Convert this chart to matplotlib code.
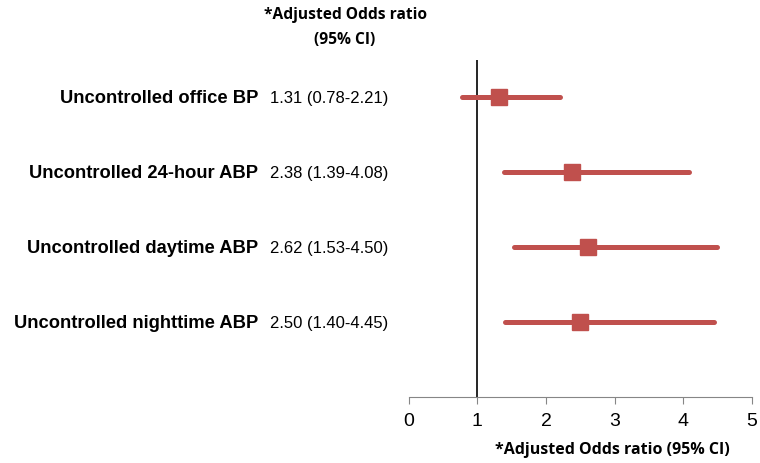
import matplotlib.pyplot as plt

# forest plot data
labels = ["Uncontrolled office BP", "Uncontrolled 24-hour ABP",
          "Uncontrolled daytime ABP", "Uncontrolled nighttime ABP"]
odds = [1.31, 2.38, 2.62, 2.50]
ci_low = [0.78, 1.39, 1.53, 1.40]
ci_high = [2.21, 4.08, 4.50, 4.45]
xticks = [0, 1, 2, 3, 4, 5]

red = "#C0504D"
fig = plt.figure(figsize=(7.6, 4.64), dpi=100)
ax = fig.add_axes([0.538, 0.142, 0.451, 0.727])

ypos = [4, 3, 2, 1]
for y, o, lo, hi in zip(ypos, odds, ci_low, ci_high):
    ax.plot([lo, hi], [y, y], color=red, lw=3.6, solid_capstyle="round", zorder=2)
    ax.plot(o, y, marker="s", ms=12, color=red, zorder=3)

ax.axvline(1, color="black", lw=1.2, zorder=1)
ax.set_xlim(0, 5)
ax.set_ylim(0, 4.5)
ax.set_xticks(xticks)
ax.set_xticklabels([str(t) for t in xticks], fontsize=14, family="Liberation Sans")
ax.set_yticks([])
for s in ["top", "right", "left"]:
    ax.spines[s].set_visible(False)
ax.spines["bottom"].set_color("#868686")
ax.tick_params(axis="x", colors="#868686", length=5, labelcolor="black", pad=6)

ax.set_xlabel("*Adjusted Odds ratio (95% CI)", fontsize=11.5, fontweight="bold",
              family="Open Sans", labelpad=6)
ax.xaxis.set_label_coords(0.595, -0.13)

# row labels and values in figure coords
for y, lab, o, lo, hi in zip(ypos, labels, odds, ci_low, ci_high):
    fy = ax.transData.transform((0, y))[1] / fig.bbox.height
    fig.text(258 / 760, fy, lab, ha="right", va="center", fontsize=13.2,
             fontweight="bold", family="Liberation Sans")
    fig.text(270 / 760, fy, f"{o:.2f} ({lo:.2f}-{hi:.2f})", ha="left", va="center",
             fontsize=12, family="Liberation Sans")

fig.text(345 / 760, 1 - 15 / 464, "*Adjusted Odds ratio", ha="center", va="center",
         fontsize=11.2, fontweight="bold", family="Open Sans")
fig.text(345 / 760, 1 - 40 / 464, "(95% CI)", ha="center", va="center",
         fontsize=11.2, fontweight="bold", family="Open Sans")

fig.savefig("out.png", dpi=100)
